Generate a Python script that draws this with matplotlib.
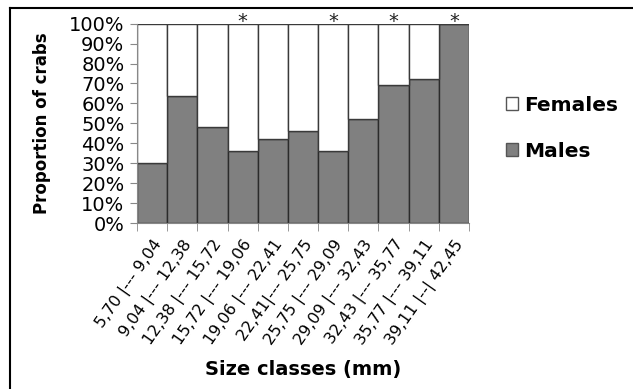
import numpy as np
import matplotlib.pyplot as plt
from matplotlib.patches import Patch
from matplotlib.lines import Line2D

# Size classes and proportion of males in each one
classes = ['5,70 |--- 9,04', '9,04 |--- 12,38', '12,38 |--- 15,72',
           '15,72 |--- 19,06', '19,06 |--- 22,41', '22,41|--- 25,75',
           '25,75 |--- 29,09', '29,09 |--- 32,43', '32,43 |--- 35,77',
           '35,77 |--- 39,11', '39,11 |--| 42,45']
males = [30, 63.5, 48, 36, 42, 46, 36, 52, 69, 72, 100]
signif = [False, False, False, True, False, False, True, False, True, False, True]

males = np.array(males) / 100.0
females = 1.0 - males
x = np.arange(len(classes))

fig = plt.figure(figsize=(6.33, 3.89), dpi=100)
ax = fig.add_axes([0.2164, 0.4267, 0.5246, 0.5125])

ax.bar(x, males, width=1.0, color='#808080', edgecolor='#2b2b2b', linewidth=1.0)
ax.bar(x, females, bottom=males, width=1.0, color='white', edgecolor='#3a3a3a', linewidth=1.0)

# asterisks over the significant classes
for i in range(len(x)):
    if signif[i]:
        ax.text(x[i], 0.983, '*', ha='center', va='baseline', fontsize=14, color='#222222',
                clip_on=False)

ax.set_xlim(-0.5, len(x) - 0.5)
ax.set_ylim(0, 1)
ax.set_yticks(np.arange(0, 1.01, 0.1))
ax.set_yticklabels(['%d%%' % int(round(v * 100)) for v in np.arange(0, 1.01, 0.1)])
ax.tick_params(axis='y', direction='out', length=5, color='#888888', labelsize=14, pad=4)

ax.set_xticks(x)
ax.set_xticklabels(classes, rotation=55, ha='right', va='top', rotation_mode='anchor', fontsize=11.5)
ax.tick_params(axis='x', length=0, pad=10)
ax.set_xticks(np.arange(-0.5, len(x), 1.0), minor=True)
ax.tick_params(axis='x', which='minor', direction='out', length=6, color='#888888')

for s in ['top', 'right']:
    ax.spines[s].set_visible(False)
for s in ['left', 'bottom']:
    ax.spines[s].set_color('#888888')

ax.set_ylabel('Proportion of crabs', fontsize=12, fontweight='bold', labelpad=13)
ax.set_xlabel('Size classes (mm)', fontsize=14, fontweight='bold', labelpad=9)

handles = [Patch(facecolor='white', edgecolor='#555555', label='Females'),
           Patch(facecolor='#808080', edgecolor='#555555', label='Males')]
fig.legend(handles=handles, loc='center left', bbox_to_anchor=(0.77, 0.67), frameon=False,
           prop={'weight': 'bold', 'size': 14.5}, handlelength=0.6, handleheight=0.6,
           handletextpad=0.3, labelspacing=1.35)

# frame lines on the top and left of the figure
fig.add_artist(Line2D([9.5 / 633, 1.0], [1 - 7.5 / 389, 1 - 7.5 / 389], color='black', linewidth=1.5))
fig.add_artist(Line2D([9.5 / 633, 9.5 / 633], [0, 1 - 7.5 / 389], color='black', linewidth=1.5))

fig.savefig('out.png', dpi=100)
